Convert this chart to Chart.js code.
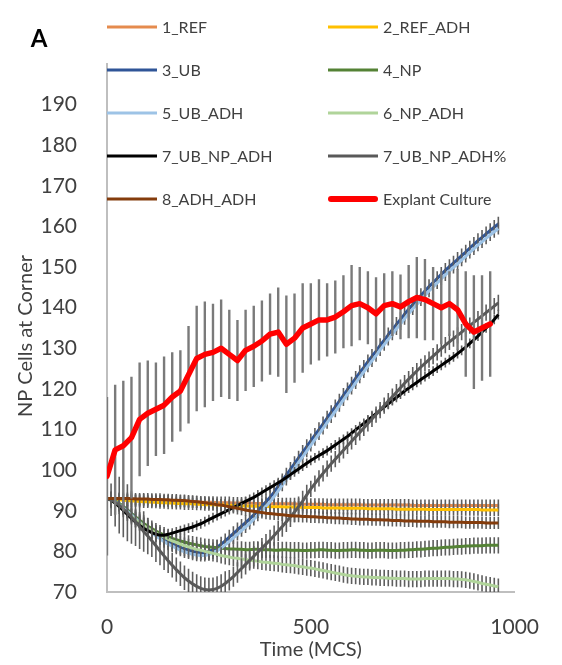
<!DOCTYPE html>
<html>
<head>
<meta charset="utf-8">
<script src="https://cdn.jsdelivr.net/npm/chart.js@4.4.1/dist/chart.umd.min.js"></script>
<style>
  html, body { margin: 0; padding: 0; background: #ffffff; }
  canvas { display: block; }
</style>
</head>
<body>
<canvas id="chart" width="562" height="665"></canvas>
<script>
// Simulation output times (MCS)
const simTime = [
  0,10,20,30,40,50,60,70,80,90,
  100,110,120,130,140,150,160,170,180,190,
  200,210,220,230,240,250,260,270,280,290,
  300,310,320,330,340,350,360,370,380,390,
  400,410,420,430,440,450,460,470,480,490,
  500,510,520,530,540,550,560,570,580,590,
  600,610,620,630,640,650,660,670,680,690,
  700,710,720,730,740,750,760,770,780,790,
  800,810,820,830,840,850,860,870,880,890,
  900,910,920,930,940,950,960
];

// Explant culture sampling times (MCS)
const explantTime = [
  0,20,40,60,80,100,120,140,160,180,
  200,220,240,260,280,300,320,340,360,380,
  400,420,440,460,480,500,520,540,560,580,
  600,620,640,660,680,700,720,740,760,780,
  800,820,840,860,880,900,920,940
];

const ref1 = [
  93.0,92.9,92.9,92.8,92.8,92.7,92.7,92.6,92.6,92.6,
  92.5,92.5,92.5,92.4,92.4,92.4,92.3,92.3,92.3,92.3,
  92.2,92.2,92.2,92.1,92.1,92.1,92.1,92.0,92.0,92.0,
  92.0,91.9,91.9,91.9,91.9,91.9,91.8,91.8,91.8,91.8,
  91.8,91.7,91.7,91.7,91.7,91.7,91.7,91.6,91.6,91.6,
  91.6,91.6,91.6,91.6,91.5,91.5,91.5,91.5,91.5,91.5,
  91.5,91.5,91.5,91.4,91.4,91.4,91.4,91.4,91.4,91.4,
  91.4,91.4,91.4,91.4,91.4,91.3,91.3,91.3,91.3,91.3,
  91.3,91.3,91.3,91.3,91.3,91.3,91.3,91.3,91.3,91.3,
  91.3,91.3,91.3,91.3,91.3,91.3,91.3
];

const refAdh2 = [
  93.0,92.9,92.8,92.7,92.6,92.5,92.4,92.4,92.3,92.2,
  92.2,92.1,92.1,92.0,92.0,91.9,91.9,91.8,91.8,91.7,
  91.7,91.7,91.6,91.6,91.5,91.5,91.5,91.4,91.4,91.4,
  91.3,91.3,91.3,91.2,91.2,91.2,91.1,91.1,91.1,91.1,
  91.0,91.0,91.0,91.0,90.9,90.9,90.9,90.9,90.8,90.8,
  90.8,90.8,90.8,90.7,90.7,90.7,90.7,90.7,90.6,90.6,
  90.6,90.6,90.6,90.6,90.5,90.5,90.5,90.5,90.5,90.5,
  90.5,90.4,90.4,90.4,90.4,90.4,90.4,90.4,90.4,90.3,
  90.3,90.3,90.3,90.3,90.3,90.3,90.3,90.3,90.3,90.3,
  90.3,90.3,90.2,90.2,90.2,90.2,90.2
];

const ub3 = [
  93.0,92.8,92.3,91.7,91.0,90.2,89.3,88.4,87.5,86.6,
  85.8,85.0,84.3,83.6,83.0,82.4,81.9,81.4,81.0,80.6,
  80.3,80.0,79.8,79.7,79.7,80.0,80.4,81.0,81.8,82.6,
  83.5,84.4,85.3,86.2,87.1,88.0,89.0,90.0,91.1,92.2,
  93.3,94.6,96.0,97.4,98.8,100.2,101.6,103.0,104.4,105.8,
  107.2,108.6,110.0,111.4,112.8,114.2,115.6,117.0,118.4,119.8,
  121.2,122.6,124.0,125.3,126.7,128.0,129.3,130.7,132.0,133.3,
  134.6,135.9,137.1,138.4,139.6,140.8,141.9,143.0,144.1,145.2,
  146.2,147.2,148.2,149.2,150.1,151.0,151.9,152.8,153.7,154.7,
  155.6,156.5,157.3,158.2,159.0,159.8,160.6
];

const np4 = [
  93.0,92.8,92.4,91.8,91.0,90.2,89.3,88.5,87.7,86.9,
  86.2,85.6,85.0,84.5,84.0,83.6,83.2,82.9,82.6,82.3,
  82.0,81.8,81.6,81.4,81.2,81.1,81.0,80.9,80.8,80.7,
  80.6,80.6,80.5,80.5,80.4,80.4,80.5,80.5,80.4,80.4,
  80.4,80.3,80.3,80.4,80.4,80.3,80.3,80.3,80.2,80.2,
  80.3,80.3,80.4,80.4,80.3,80.3,80.2,80.2,80.3,80.3,
  80.4,80.4,80.3,80.3,80.2,80.2,80.3,80.3,80.3,80.2,
  80.2,80.2,80.3,80.3,80.4,80.4,80.5,80.5,80.6,80.7,
  80.8,80.8,80.9,81.0,81.0,81.1,81.2,81.2,81.3,81.3,
  81.4,81.4,81.4,81.5,81.5,81.5,81.5
];

const ubAdh5 = [
  93.0,92.7,92.2,91.5,90.7,89.9,89.0,88.1,87.2,86.3,
  85.4,84.6,83.8,83.1,82.4,81.8,81.3,80.8,80.3,79.9,
  79.6,79.3,79.1,79.0,79.0,79.2,79.6,80.1,80.8,81.6,
  82.4,83.3,84.2,85.1,86.0,86.9,87.9,88.9,90.0,91.1,
  92.2,93.5,94.9,96.3,97.7,99.1,100.5,101.9,103.3,104.7,
  106.1,107.5,108.9,110.3,111.7,113.1,114.5,115.9,117.3,118.7,
  120.1,121.5,122.9,124.2,125.6,126.9,128.2,129.6,130.9,132.2,
  133.5,134.8,136.0,137.3,138.5,139.7,140.8,141.9,143.0,144.1,
  145.1,146.1,147.1,148.1,149.0,149.9,150.8,151.7,152.6,153.6,
  154.5,155.4,156.2,157.1,157.9,158.7,159.5
];

const npAdh6 = [
  93.0,92.6,91.9,91.2,90.4,89.5,88.6,87.8,87.0,86.3,
  85.7,85.1,84.5,84.0,83.5,83.0,82.6,82.2,81.8,81.4,
  81.1,80.8,80.5,80.3,80.0,79.8,79.5,79.3,79.0,78.8,
  78.6,78.4,78.3,78.1,78.0,77.8,77.7,77.6,77.4,77.3,
  77.2,77.1,77.0,76.8,76.7,76.6,76.5,76.3,76.2,76.0,
  75.9,75.7,75.5,75.3,75.1,74.9,74.7,74.5,74.3,74.1,
  74.0,73.9,73.8,73.7,73.7,73.6,73.6,73.5,73.5,73.4,
  73.4,73.3,73.3,73.3,73.2,73.2,73.2,73.2,73.3,73.3,
  73.3,73.3,73.3,73.3,73.3,73.2,73.2,73.1,73.0,72.8,
  72.6,72.4,72.1,71.9,71.7,71.5,71.3
];

const ubNpAdh7 = [
  93.0,92.6,91.9,91.0,90.1,89.1,88.1,87.2,86.4,85.7,
  85.1,84.6,84.2,84.0,84.0,84.2,84.5,84.8,85.1,85.4,
  85.7,86.0,86.4,86.8,87.3,87.8,88.3,88.8,89.3,89.8,
  90.3,90.8,91.3,91.8,92.3,92.8,93.3,93.9,94.5,95.1,
  95.7,96.3,96.9,97.5,98.2,98.9,99.6,100.3,101.0,101.7,
  102.4,103.0,103.6,104.2,104.8,105.5,106.2,106.9,107.6,108.3,
  109.1,109.9,110.7,111.5,112.3,113.1,113.9,114.7,115.5,116.3,
  117.1,117.9,118.7,119.5,120.2,120.9,121.6,122.3,123.0,123.7,
  124.4,125.1,125.8,126.5,127.2,127.9,128.7,129.5,130.3,131.2,
  132.1,133.0,134.0,135.0,136.0,137.1,138.3
];

const ubNpAdhPct7 = [
  93.0,92.7,92.1,91.4,90.5,89.5,88.4,87.3,86.1,84.9,
  83.8,82.6,81.4,80.1,78.9,77.7,76.6,75.5,74.5,73.5,
  72.7,72.0,71.4,70.9,70.6,70.5,70.6,70.9,71.4,72.1,
  72.9,73.8,74.8,75.8,76.8,77.8,78.8,79.8,80.8,81.8,
  82.8,83.9,85.0,86.1,87.3,88.5,89.7,91.0,92.4,93.9,
  95.4,96.7,98.0,99.2,100.4,101.6,102.7,103.8,104.9,106.0,
  107.1,108.2,109.3,110.4,111.5,112.6,113.7,114.8,115.9,117.0,
  118.1,119.2,120.3,121.4,122.4,123.4,124.4,125.4,126.3,127.2,
  128.1,129.0,129.9,130.8,131.6,132.4,133.2,134.0,134.8,135.6,
  136.4,137.2,138.0,138.8,139.6,140.4,141.2
];

const adhAdh8 = [
  93.0,93.0,93.0,93.0,93.0,93.0,93.0,92.9,92.9,92.9,
  92.9,92.8,92.8,92.8,92.7,92.7,92.6,92.6,92.5,92.5,
  92.4,92.3,92.2,92.1,92.0,91.8,91.7,91.5,91.4,91.2,
  91.0,90.8,90.6,90.4,90.2,90.0,89.9,89.7,89.6,89.4,
  89.3,89.2,89.1,89.0,88.9,88.8,88.7,88.7,88.6,88.6,
  88.5,88.5,88.4,88.4,88.3,88.3,88.2,88.2,88.1,88.1,
  88.0,88.0,87.9,87.9,87.9,87.8,87.8,87.8,87.7,87.7,
  87.6,87.6,87.6,87.5,87.5,87.5,87.4,87.4,87.4,87.4,
  87.3,87.3,87.3,87.3,87.2,87.2,87.2,87.2,87.1,87.1,
  87.1,87.1,87.1,87.0,87.0,87.0,87.0
];

const explant = [
  98.5,105,106,108,112.5,114,115,116,118,119.5,
  123.5,127.5,128.5,129,130,128.5,127,129.5,130.5,131.8,
  133.5,134,131,132.5,135,136,137,137,137.7,139,
  140.5,141,140,138.5,140.5,141,140.2,141.5,142.5,142,
  141,140,141,139.5,136,134,135,136
];

// Standard deviations
const explantSd = [
  19.5,16,16,15,14,13,11.5,12,11,10,
  12,13,13,12,12,11,10,10,10,10,
  10,11,12,11,11,10,10,9,9,9,
  10,9,9,9,8,8,8,9,10,10,
  9,9,8,10,13,14,13,13
];
const ubNpAdhPct7Sd = [
  0,4,6,7,7,7,6.5,6,5.5,5,
  4.5,4,4,3.5,3.5,3,3,3,3,3,
  3,3,3,3,3,3,3,3,3,3,
  2.5,2.5,2.5,2.5,2.5,2.5,2.5,2.5,2.5,2.5,
  2.5,2.5,2.5,2.5,2.5,2.5,2.5,2.5,2.5,2.5,
  2,2,2,2,2,2,2,2,2,2,
  2,2,2,2,2,2,2,2,2,2,
  2,2,2,2,2,2,2,2,2,2,
  2,2,2,2,2,2,2,2,2,2,
  2,2,2,2,2,2,2
];
// one SD per simulation run (same order as seriesLabels; the % run uses its own array)
const simSd = [1.5, 1.5, 1.8, 2.0, 1.5, 2.0, 1.2, ubNpAdhPct7Sd, 1.5];

const seriesLabels = ['1_REF','2_REF_ADH','3_UB','4_NP','5_UB_ADH','6_NP_ADH','7_UB_NP_ADH','7_UB_NP_ADH%','8_ADH_ADH'];
const seriesColors = ['#E58B4E','#FFC000','#2F5597','#548235','#9DC3E6','#B0D49A','#000000','#595959','#843C0C'];
const simSeries = [ref1, refAdh2, ub3, np4, ubAdh5, npAdh6, ubNpAdh7, ubNpAdhPct7, adhAdh8];

const yTickValues = [70,80,90,100,110,120,130,140,150,160,170,180,190];
const xTickValues = [0,500,1000];

const TEXT = '#404040';
const FONT = 'Lato, "Open Sans", sans-serif';

const datasets = simSeries.map((vals, i) => ({
  label: seriesLabels[i],
  data: simTime.map((t, k) => ({ x: t, y: vals[k] })),
  borderColor: seriesColors[i],
  backgroundColor: seriesColors[i],
  borderWidth: 3,
  pointRadius: 0,
  tension: 0,
  fill: false,
  order: -i,
  errors: simSd[i],
  errorColor: '#5E5E5E',
  errorWidth: 1.6,
  legendWidth: 3
}));
datasets.push({
  label: 'Explant Culture',
  data: explantTime.map((t, k) => ({ x: t, y: explant[k] })),
  borderColor: '#FF0000',
  backgroundColor: '#FF0000',
  borderWidth: 5.5,
  borderJoinStyle: 'round',
  borderCapStyle: 'round',
  pointRadius: 0,
  tension: 0,
  fill: false,
  order: -20,
  errors: explantSd,
  errorColor: '#7A7A7A',
  errorWidth: 2.4,
  legendWidth: 6
});

// vertical SD whiskers drawn just beneath each series' own line
const errorBars = {
  id: 'errorBars',
  beforeDatasetDraw(chart, args) {
    const ds = chart.data.datasets[args.index];
    if (ds.errors == null) return;
    const { ctx, chartArea: a, scales: { x, y } } = chart;
    ctx.save();
    ctx.beginPath();
    ctx.rect(a.left, a.top, a.right - a.left, a.bottom - a.top);
    ctx.clip();
    ctx.strokeStyle = ds.errorColor;
    ctx.lineWidth = ds.errorWidth;
    ctx.lineCap = 'butt';
    ctx.beginPath();
    ds.data.forEach((p, i) => {
      const e = Array.isArray(ds.errors) ? ds.errors[i] : ds.errors;
      if (!e) return;
      const px = x.getPixelForValue(p.x);
      ctx.moveTo(px, y.getPixelForValue(p.y - e));
      ctx.lineTo(px, y.getPixelForValue(p.y + e));
    });
    ctx.stroke();
    ctx.restore();
  }
};

// two-column legend, panel letter and axis titles
const decorations = {
  id: 'decorations',
  afterDraw(chart) {
    const { ctx, chartArea: a } = chart;
    ctx.save();
    chart.data.datasets.forEach((ds, i) => {
      const col = i % 2, row = Math.floor(i / 2);
      const x0 = col ? 328 : 107;
      const y0 = 27 + row * 43;
      ctx.strokeStyle = ds.borderColor;
      ctx.lineWidth = ds.legendWidth;
      ctx.lineCap = ds.legendWidth > 4 ? 'round' : 'butt';
      ctx.beginPath();
      ctx.moveTo(x0 + (ds.legendWidth > 4 ? 3 : 0), y0);
      ctx.lineTo(x0 + 50 - (ds.legendWidth > 4 ? 3 : 0), y0);
      ctx.stroke();
      ctx.fillStyle = TEXT;
      ctx.font = '16px ' + FONT;
      ctx.textAlign = 'left';
      ctx.textBaseline = 'middle';
      ctx.fillText(ds.label, x0 + 55, y0 + 1);
    });

    ctx.fillStyle = '#000000';
    ctx.font = 'bold 24px ' + FONT;
    ctx.textAlign = 'center';
    ctx.textBaseline = 'middle';
    ctx.fillText('A', 39, 39);

    ctx.fillStyle = TEXT;
    ctx.font = '20px ' + FONT;
    ctx.fillText('Time (MCS)', (a.left + a.right) / 2, 650);

    ctx.translate(26, 336);
    ctx.rotate(-Math.PI / 2);
    ctx.fillText('NP Cells at Corner', 0, 0);
    ctx.restore();
  }
};

new Chart(document.getElementById('chart'), {
  type: 'line',
  data: { datasets },
  options: {
    responsive: false,
    animation: false,
    devicePixelRatio: 1,
    layout: { padding: { left: 0, right: 29, top: 64, bottom: 0 } },
    plugins: {
      legend: { display: false },
      tooltip: { enabled: false },
      title: { display: false }
    },
    scales: {
      x: {
        type: 'linear',
        min: 0,
        max: 1000,
        afterBuildTicks: s => { s.ticks = xTickValues.map(v => ({ value: v })); },
        afterFit: s => { s.height = 73; },
        grid: { display: false, drawTicks: false },
        border: { display: true, color: '#BFBFBF', width: 2 },
        ticks: { color: TEXT, font: { family: FONT, size: 21 }, padding: 23, maxRotation: 0,
                 callback: v => String(v) }
      },
      y: {
        type: 'linear',
        min: 70,
        max: 200,
        afterBuildTicks: s => { s.ticks = yTickValues.map(v => ({ value: v })); },
        afterFit: s => { s.width = 107; },
        grid: { display: false, drawTicks: false },
        border: { display: true, color: '#BFBFBF', width: 2 },
        ticks: { color: TEXT, font: { family: FONT, size: 21 }, padding: 30,
                 callback: v => String(v) }
      }
    }
  },
  plugins: [errorBars, decorations]
});
</script>
</body>
</html>
